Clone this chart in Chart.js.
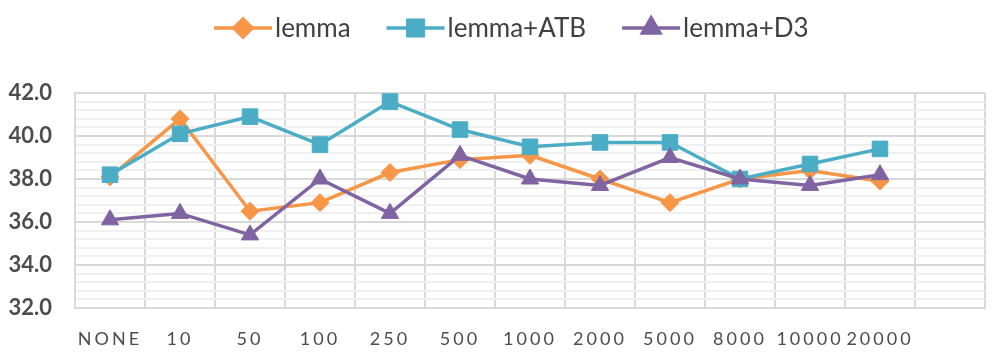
<!DOCTYPE html>
<html><head><meta charset="utf-8">
<script src="https://cdn.jsdelivr.net/npm/chart.js@4"></script>
<style>html,body{margin:0;padding:0;background:#fff;}#wrap{width:1000px;height:364px;}</style>
</head><body><div id="wrap"><canvas id="c" width="1000" height="364"></canvas></div>
<script>
const categories = ['NONE','10','50','100','250','500','1000','2000','5000','8000','10000','20000',''];
const lemma    = [38.1, 40.8, 36.5, 36.9, 38.3, 38.9, 39.1, 38.0, 36.9, 38.0, 38.4, 37.9, null];
const lemmaATB = [38.2, 40.1, 40.9, 39.6, 41.6, 40.3, 39.5, 39.7, 39.7, 38.0, 38.7, 39.4, null];
const lemmaD3  = [36.1, 36.4, 35.4, 38.0, 36.4, 39.1, 38.0, 37.7, 39.0, 38.0, 37.7, 38.2, null];
const yMajorTicks = [32, 34, 36, 38, 40, 42];

const FONT = 'Lato, Carlito, "Open Sans", sans-serif';
const TEXT = '#4d4d4d';
const isMajor = v => yMajorTicks.some(t => Math.abs(t - v) < 1e-6);

const legendPlugin = {
  id: 'lineLegend',
  afterDraw(chart) {
    const ctx = chart.ctx;
    ctx.save();
    ctx.font = '26px ' + FONT;
    ctx.textBaseline = 'middle';
    ctx.textAlign = 'left';
    let x = 214; const y = 28;
    chart.data.datasets.forEach(ds => {
      ctx.strokeStyle = ds.borderColor; ctx.fillStyle = ds.borderColor; ctx.lineWidth = 3.5;
      ctx.beginPath(); ctx.moveTo(x, y); ctx.lineTo(x + 58, y); ctx.stroke();
      Chart.helpers.drawPoint(ctx, {pointStyle: ds.pointStyle, radius: ds.pointRadius, borderWidth: 1, rotation: 0}, x + 29, y);
      ctx.fillStyle = '#404040';
      ctx.fillText(ds.label, x + 61, y + 1);
      x = x + 61 + ctx.measureText(ds.label).width + 36;
    });
    ctx.restore();
  },
  afterLayout(chart) {
    const s = chart.scales.x;
    if (s && !s._ls) {
      const orig = s.drawLabels;
      s.drawLabels = function(ca) {
        this.ctx.save();
        this.ctx.letterSpacing = '3px';
        orig.call(this, ca);
        this.ctx.restore();
      };
      s._ls = true;
    }
  }
};

new Chart(document.getElementById('c'), {
  type: 'line',
  data: {
    labels: categories,
    datasets: [
      {label: 'lemma', data: lemma, borderColor: '#F79646', backgroundColor: '#F79646',
       pointStyle: 'rectRot', pointRadius: 9, pointBorderWidth: 1, borderWidth: 3.5, order: 3},
      {label: 'lemma+ATB', data: lemmaATB, borderColor: '#4BACC6', backgroundColor: '#4BACC6',
       pointStyle: 'rect', pointRadius: 11, pointBorderWidth: 1, borderWidth: 3.5, order: 2},
      {label: 'lemma+D3', data: lemmaD3, borderColor: '#8064A2', backgroundColor: '#8064A2',
       pointStyle: 'triangle', pointRadius: 10, pointBorderWidth: 1, borderWidth: 3.5, order: 1}
    ]
  },
  options: {
    responsive: false,
    animation: false,
    devicePixelRatio: 1,
    layout: {padding: {left: 0, right: 15, top: 93, bottom: 0}},
    plugins: {legend: {display: false}, tooltip: {enabled: false}},
    elements: {line: {tension: 0}},
    scales: {
      x: {
        offset: true,
        grid: {offset: true, color: '#d9d9d9', lineWidth: 2, drawTicks: false},
        border: {color: '#d9d9d9', width: 2},
        ticks: {color: TEXT, font: {family: FONT, size: 18}, padding: 20, autoSkip: false, maxRotation: 0},
        afterFit(s) { s.height = 56; }
      },
      y: {
        min: 32, max: 42,
        grid: {
          color: c => isMajor(c.tick.value) ? '#d9d9d9' : '#f0f0f0',
          lineWidth: 2, drawTicks: false
        },
        border: {color: '#d9d9d9', width: 2},
        ticks: {stepSize: 0.4, autoSkip: false, color: TEXT, font: {family: FONT, size: 22, weight: 'bold'}, padding: 23,
                callback: v => isMajor(v) ? Number(v).toFixed(1) : ''},
        afterFit(s) { s.width = 75; }
      }
    }
  },
  plugins: [legendPlugin]
});
</script></body></html>
